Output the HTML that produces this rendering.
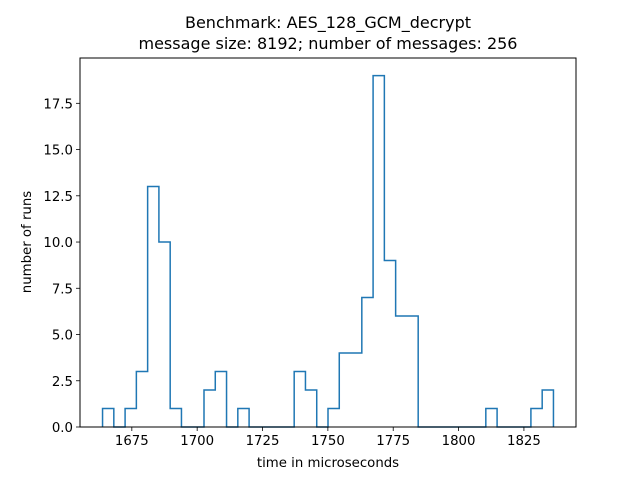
<!DOCTYPE html>
<html><head><meta charset="utf-8"><style>
body{margin:0;background:#fff}
svg{display:block;font-family:"DejaVu Sans","Liberation Sans",sans-serif}
</style></head><body>
<svg id="chart" width="640" height="480" viewBox="0 0 640 480" xmlns="http://www.w3.org/2000/svg">
<rect width="640" height="480" fill="#fff"/>
<text x="328" y="28" font-size="16" text-anchor="middle">Benchmark: AES_128_GCM_decrypt</text>
<text x="328" y="49" font-size="16" text-anchor="middle">message size: 8192; number of messages: 256</text>
<g id="plot"></g>
<rect x="80" y="58" width="496" height="369" fill="none" stroke="#000" stroke-width="1"/>
<text x="328" y="467" font-size="13.3" text-anchor="middle">time in microseconds</text>
<text x="31" y="242" font-size="13.3" text-anchor="middle" transform="rotate(-90 31 242)">number of runs</text>
</svg>
<script>
const binStart = 1663.8;
const binWidth = 4.3125;
const counts = [1,0,1,3,13,10,1,0,0,2,3,0,1,0,0,0,0,3,2,0,1,4,4,7,19,9,6,6,0,0,0,0,0,0,1,0,0,0,1,2];
const xTicks = [1675,1700,1725,1750,1775,1800,1825];
const yTicks = [0,2.5,5,7.5,10,12.5,15,17.5];
const yTickLabels = ["0.0","2.5","5.0","7.5","10.0","12.5","15.0","17.5"];

const L=80,R=576,T=58,B=427;
const xmin=binStart, xmax=binStart+binWidth*counts.length;
const span=xmax-xmin, pad=span*0.05;
const x=v=>L+(v-(xmin-pad))/(span+2*pad)*(R-L);
const ymax=Math.max(...counts)*1.05;
const y=v=>B-v/ymax*(B-T);
const NS="http://www.w3.org/2000/svg";
const g=document.getElementById('plot');
function mk(tag,attrs){const e=document.createElementNS(NS,tag);for(const k in attrs)e.setAttribute(k,attrs[k]);g.appendChild(e);return e;}

let d=`M${x(xmin)},${y(0)}`;
counts.forEach((c,i)=>{
  const x0=x(xmin+i*binWidth), x1=x(xmin+(i+1)*binWidth);
  d+=` L${x0},${y(c)} L${x1},${y(c)}`;
});
d+=` L${x(xmax)},${y(0)}`;
const p=mk('path',{d:d,fill:'none',stroke:'#1f77b4','stroke-width':1.5,'stroke-linejoin':'miter'});



xTicks.forEach(t=>{
  const ln=mk('line',{x1:x(t),x2:x(t),y1:B,y2:B+4,stroke:'#000','stroke-width':0.8});
  
  
  const tx=mk('text',{x:x(t),y:B+18,'font-size':13.3,'text-anchor':'middle'});
  tx.textContent=t;
  
  
});
yTicks.forEach((t,i)=>{
  const ln=mk('line',{x1:L-4,x2:L,y1:y(t),y2:y(t),stroke:'#000','stroke-width':0.8});
  
  
  const tx=mk('text',{x:L-7,y:y(t)+5,'font-size':13.3,'text-anchor':'end'});
  tx.textContent=yTickLabels[i];
  
  
});
</script>
</body></html>
